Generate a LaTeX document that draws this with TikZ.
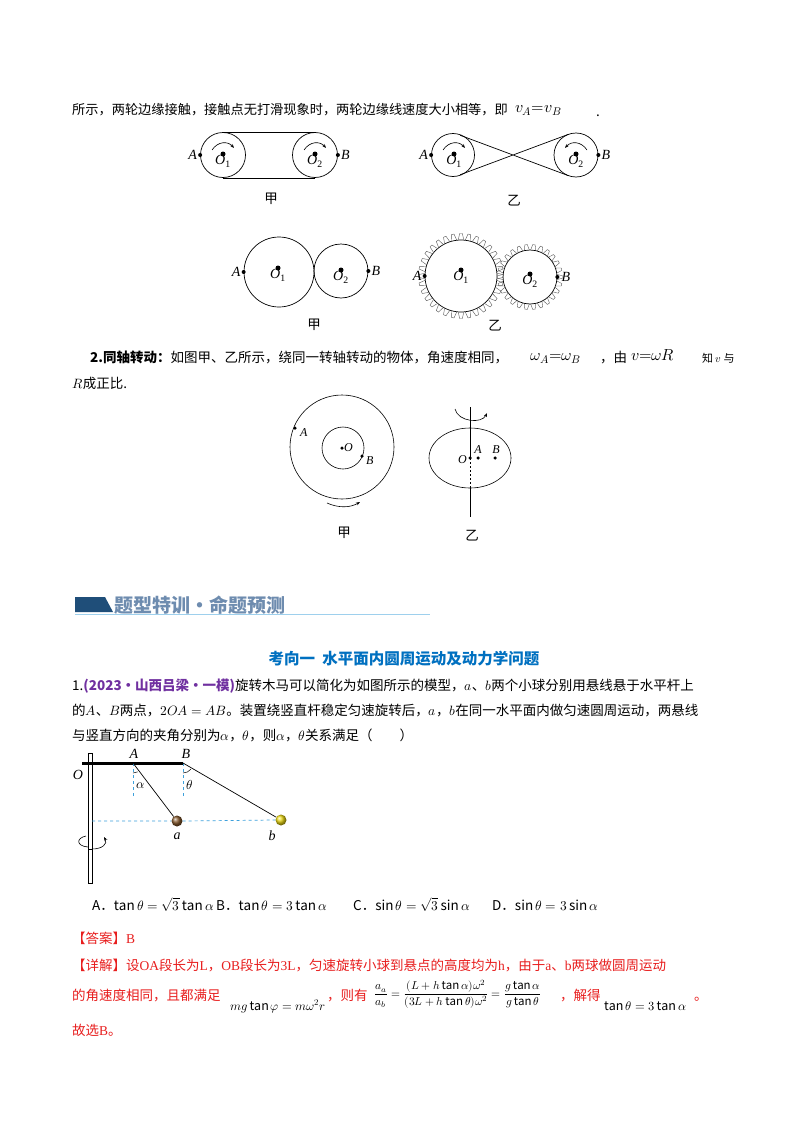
\documentclass[tikz,border=0pt]{standalone}
\usepackage{amsmath}
\usepackage{graphicx}
\usepackage{fontspec}
\usepackage{unicode-math}
\setmainfont{Noto Sans CJK SC}
\setmathfont{Latin Modern Math}
\newfontfamily\latf{Liberation Serif}
\usetikzlibrary{arrows.meta,calc,shapes.geometric,shadings}
\definecolor{hblue}{RGB}{31,78,121}
\definecolor{hgray}{RGB}{110,140,175}
\definecolor{tblue}{RGB}{0,112,192}
\definecolor{purp}{RGB}{112,48,160}
\definecolor{ered}{RGB}{232,30,30}
\definecolor{dblue}{RGB}{60,160,220}
\begin{document}
\begin{tikzpicture}[x=1pt,y=-1pt,
  txt/.style={anchor=base west,inner sep=0pt,font=\fontsize{13.5}{15}\selectfont},
  lbl/.style={inner sep=0pt,font=\fontsize{14}{15}\selectfont\latf\itshape},
  slbl/.style={inner sep=0pt,font=\fontsize{12}{14}\selectfont\latf\itshape},
  dotp/.style={circle,fill=black,inner sep=0pt,minimum size=4pt},
  wheel/.style={draw,line width=0.7pt},
  rarr/.style={-{Stealth[length=4pt,width=3pt]},line width=0.6pt}]
\useasboundingbox[fill=white] (0,0) rectangle (800,1132);
% ---- line 1
\node[txt,font=\fontsize{13.2}{15}\selectfont] (t1) at (72,114) {所示，两轮边缘接触，接触点无打滑现象时，两轮边缘线速度大小相等，即};
\node[txt,font=\fontsize{16}{18}\selectfont] (t1b) at (515,112) {$v_A{=}v_B$};
\node[txt] (t1c) at (596,116) {.};
% ---- belt jia
\node[wheel,circle,minimum size=45pt] (c1) at (223,155) {};
\node[wheel,circle,minimum size=45pt] (c2) at (315,155) {};
\draw[line width=0.7pt] (c1.north) -- (c2.north) (c1.south) -- (c2.south);
\node[dotp] (a1) at (c1.west) {}; \node[dotp] (b1) at (c2.east) {};
\node[lbl,anchor=east] at ([xshift=-3pt]a1) {A};
\node[lbl,anchor=west] at ([xshift=3pt]b1) {B};
\node[dotp,minimum size=5pt] (o1) at (223,154) {}; \node[dotp,minimum size=5pt] (o2) at (315,154) {};
\node[lbl,anchor=north] at ([yshift=2pt]o1.south) {O\textsubscript{\upshape 1}};
\node[lbl,anchor=north] at ([yshift=2pt]o2.south) {O\textsubscript{\upshape 2}};
\draw[rarr] (212,150) .. controls (218,141) and (228,141) .. (234,148);
\draw[rarr] (304,150) .. controls (310,141) and (320,141) .. (326,148);
\node[txt,anchor=base] (j1) at (271,203) {甲};
% ---- belt yi
\node[wheel,circle,minimum size=43pt] (c3) at (453,155) {};
\node[wheel,circle,minimum size=44pt] (c4) at (576,155) {};
\coordinate (p1) at (460.2,135.3); \coordinate (p2) at (568.5,175.7);
\coordinate (p3) at (460.2,174.7); \coordinate (p4) at (568.5,134.3);
\draw[line width=0.7pt] (p1) -- (p2) (p3) -- (p4);
\node[dotp] (a2) at (c3.west) {}; \node[dotp] (b2) at (c4.east) {};
\node[lbl,anchor=east] at ([xshift=-3pt]a2) {A};
\node[lbl,anchor=west] at ([xshift=3pt]b2) {B};
\node[dotp,minimum size=5pt] (o3) at (454,154) {}; \node[dotp,minimum size=5pt] (o4) at (576,154) {};
\node[lbl,anchor=north] at ([yshift=2pt]o3.south) {O\textsubscript{\upshape 1}};
\node[lbl,anchor=north] at ([yshift=2pt]o4.south) {O\textsubscript{\upshape 2}};
\draw[rarr] (443,150) .. controls (449,141) and (459,141) .. (465,148);
\draw[rarr] (587,150) .. controls (581,141) and (571,141) .. (565,148);
\node[txt,anchor=base] (y1) at (514,205) {乙};
% ---- friction jia
\node[wheel,circle,minimum size=70pt] (c5) at (279,272) {};
\node[wheel,circle,minimum size=54pt] (c6) at (341,271) {};
\node[dotp] (a3) at (c5.west) {}; \node[dotp] (b3) at (c6.east) {};
\node[lbl,anchor=east] at ([xshift=-3pt]a3) {A};
\node[lbl,anchor=west] at ([xshift=3pt]b3) {B};
\node[dotp,minimum size=5pt] (o5) at (278,268) {}; \node[dotp,minimum size=5pt] (o6) at (341,270) {};
\node[lbl,anchor=north] at ([yshift=2pt]o5.south) {O\textsubscript{\upshape 1}};
\node[lbl,anchor=north] at ([yshift=2pt]o6.south) {O\textsubscript{\upshape 2}};
\node[txt,anchor=base] (j2) at (314,329) {甲};
% ---- gears yi
\node[wheel,circle,minimum size=72pt] (c7) at (461,276) {};
\node[wheel,circle,minimum size=54pt] (c8) at (530,277) {};
\foreach \i in {0,...,31}{
  \pgfmathsetmacro\a{\i*360/32}
  \draw[line width=0.4pt,gray!70!black] ($(461,276)+(\a-4.5:36)$) -- ($(461,276)+(\a-1.8:42.5)$) -- ($(461,276)+(\a+1.8:42.5)$) -- ($(461,276)+(\a+4.5:36)$);
}
\foreach \i in {0,...,25}{
  \pgfmathsetmacro\a{\i*360/26}
  \draw[line width=0.4pt,gray!70!black] ($(530,277)+(\a-5.5:27)$) -- ($(530,277)+(\a-2.2:32.5)$) -- ($(530,277)+(\a+2.2:32.5)$) -- ($(530,277)+(\a+5.5:27)$);
}
\node[dotp] (a4) at (c7.west) {}; \node[dotp] (b4) at (c8.east) {};
\node[lbl,anchor=east] at ([xshift=-3pt]a4) {A};
\node[lbl,anchor=west] at ([xshift=4pt]b4) {B};
\node[dotp,minimum size=5pt] (o7) at (461,270) {}; \node[dotp,minimum size=5pt] (o8) at (530,274) {};
\node[lbl,anchor=north] at ([yshift=2pt]o7.south) {O\textsubscript{\upshape 1}};
\node[lbl,anchor=north] at ([yshift=2pt]o8.south) {O\textsubscript{\upshape 2}};
\node[txt,anchor=base] (y2) at (495,330) {乙};
% ---- section 2 text
\node[txt] (s2) at (90,362) {\textbf{2.同轴转动：}如图甲、乙所示，绕同一转轴转动的物体，角速度相同，};
\node[txt,font=\fontsize{16}{18}\selectfont] (s2b) at (530,360) {$\omega_A{=}\omega_B$};
\node[txt] (s2c) at (600,362) {，由};
\node[txt,font=\fontsize{16}{18}\selectfont] (s2d) at (631,360) {$v{=}\omega R$};
\node[txt,font=\fontsize{11}{13}\selectfont] (s2e) at (702,362) {知 $v$ 与};
\node[txt] (s2f) at (72,388) {$R$成正比.};
% ---- coaxial jia
\node[wheel,circle,minimum size=104pt,line width=0.6pt] (c9) at (342,447) {};
\node[wheel,circle,minimum size=42pt,line width=0.6pt] (c10) at (343,448) {};
\node[dotp,minimum size=3.5pt] (oo) at (342,448) {};
\node[slbl,anchor=west] at ([xshift=2pt]oo) {O};
\node[dotp,minimum size=3.5pt] (aa) at (295,428) {};
\node[slbl,anchor=west] at (300,433) {A};
\node[dotp,minimum size=3.5pt] (bb) at (362,456) {};
\node[slbl,anchor=west] at (366,461) {B};
\draw[rarr] (327,503) .. controls (338,508) and (350,508) .. (360,502);
\node[txt,anchor=base] (j3) at (344,537) {甲};
% ---- coaxial yi
\node[ellipse,minimum width=82pt,minimum height=60pt,line width=0.6pt,draw] (e1) at (470,458) {};
\coordinate (ax1) at (470,407); \coordinate (ax2) at (470,517);
\draw[line width=0.6pt] (ax1) -- (470,458);
\draw[line width=0.6pt,dash pattern=on 2pt off 2pt] (470,458) -- (470,488);
\draw[line width=0.6pt] (470,488) -- (ax2);
\node[dotp,minimum size=3.5pt] (oy) at (470,458) {};
\node[dotp,minimum size=3.5pt] (ay) at (478,458) {};
\node[dotp,minimum size=3.5pt] (by) at (495,458) {};
\node[slbl,anchor=east] at (467,460) {O};
\node[slbl] at (478,450) {A};
\node[slbl] at (496,450) {B};
\draw[rarr] (455,409) .. controls (458,422) and (482,424) .. (487,413);
\node[txt,anchor=base] (y3) at (472,540) {乙};
% ---- heading
\fill[hblue] (75,597) -- (105,597) -- (113,612) -- (75,612) -- cycle;
\draw[dblue!50,line width=0.8pt] (75,614) -- (430,614);
\node[txt,font=\fontsize{19}{21}\selectfont\bfseries,text=hgray] (hd) at (114,612) {题型特训·命题预测};
\node[anchor=base,inner sep=0pt,font=\fontsize{15.5}{17}\selectfont\bfseries,text=tblue] (tt) at (404,664) {考向一\ \ 水平面内圆周运动及动力学问题};
% ---- question
\node[txt] (q1) at (72,690) {1.\textcolor{purp}{\textbf{(2023·山西吕梁·一模)}}旋转木马可以简化为如图所示的模型，$a$、$b$两个小球分别用悬线悬于水平杆上};
\node[txt] (q2) at (72,715) {的$A$、$B$两点，$2OA=AB$。装置绕竖直杆稳定匀速旋转后，$a$，$b$在同一水平面内做匀速圆周运动，两悬线};
\node[txt] (q3) at (72,740) {与竖直方向的夹角分别为$\alpha$，$\theta$，则$\alpha$，$\theta$关系满足（\qquad）};
% ---- pendulum figure
\draw[line width=0.5pt,fill=white] (88,753) rectangle (92,883);
\draw[line width=3pt] (82,763) -- (183,763);
\coordinate (A) at (133,763); \coordinate (B) at (183,763);
\node[lbl,anchor=south] at (134,759) {A};
\node[lbl,anchor=south] at (186,759) {B};
\node[lbl] at (78,775) {O};
\draw[dblue,dashed,line width=0.7pt] (A) -- (133,797) (B) -- (183,797);
\node[circle,inner sep=0pt,minimum size=11pt,ball color=brown!70!black] (ba) at (177,821) {};
\node[circle,inner sep=0pt,minimum size=11pt,ball color=yellow!70!brown] (bb2) at (281,820) {};
\draw[line width=0.7pt] (A) -- (ba) (B) -- (bb2);
\draw[dblue,dashed,line width=0.7pt] (92,821) -- (ba.west) (ba.east) -- (bb2.west);
\node[lbl] at (177,836) {a};
\node[lbl] at (272,836) {b};
\draw[line width=0.5pt] (133,773) arc[start angle=90,end angle=62,radius=10];
\draw[line width=0.5pt] (183,773) arc[start angle=90,end angle=38,radius=10];
\node[inner sep=0pt,font=\fontsize{13}{14}\selectfont] at (141,786) {$\alpha$};
\node[inner sep=0pt,font=\fontsize{13}{14}\selectfont] at (190,785) {$\theta$};
\draw[rarr] (88,847) .. controls (76,846) and (76,838) .. (86,836) (92,849) .. controls (102,849) and (108,844) .. (104,837);
\draw[line width=0.6pt] (88,849) -- (92,849);
% ---- options
\node[txt] (oa) at (92,910) {A．$\tan\theta=\sqrt3\tan\alpha$};
\node[txt] (ob) at (216,910) {B．$\tan\theta=3\tan\alpha$};
\node[txt] (oc) at (353,910) {C．$\sin\theta=\sqrt3\sin\alpha$};
\node[txt] (od) at (492,910) {D．$\sin\theta=3\sin\alpha$};
% ---- answer
\node[txt,text=ered] (an) at (72,943) {【答案】{\latf B}};
\node[txt,text=ered] (d1) at (72,970) {【详解】设{\latf OA}段长为{\latf L}，{\latf OB}段长为{\latf 3L}，匀速旋转小球到悬点的高度均为{\latf h}，由于{\latf a}、{\latf b}两球做圆周运动};
\node[txt,text=ered] (d2) at (72,1000) {的角速度相同，且都满足};
\node[txt,font=\fontsize{12.5}{14}\selectfont] (f1) at (230,1010) {$mg\tan\varphi=m\omega^2r$};
\node[txt,text=ered] (d3) at (327,1000) {，则有};
\node[anchor=west,inner sep=0pt,font=\fontsize{11.5}{13}\selectfont] (f2) at (374,994) {$\dfrac{a_a}{a_b}=\dfrac{(L+h\tan\alpha)\omega^2}{(3L+h\tan\theta)\omega^2}=\dfrac{g\tan\alpha}{g\tan\theta}$};
\node[txt,text=ered] (d4) at (560,1000) {，解得};
\node[txt,font=\fontsize{12.5}{14}\selectfont] (f3) at (604,1010) {$\tan\theta=3\tan\alpha$};
\node[txt,text=ered] (d5) at (694,1000) {。};
\node[txt,text=ered] (d6) at (72,1035) {故选{\latf B}。};
\end{tikzpicture}
\end{document}
